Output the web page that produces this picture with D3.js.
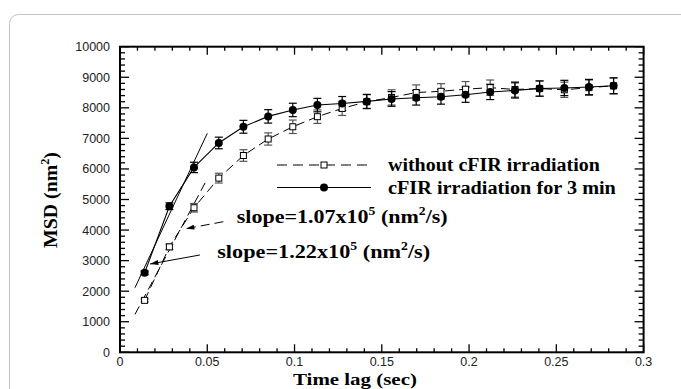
<!DOCTYPE html>
<html><head><meta charset="utf-8">
<script src="https://cdn.jsdelivr.net/npm/d3@7"></script>
<style>
html,body{margin:0;padding:0;background:#fff;}
svg{display:block;}
</style></head>
<body>
<svg id="chart" width="681" height="389"></svg>
<script>
// ---- data ----
const timeLag = [0.0141,0.0283,0.0424,0.0566,0.0707,0.0849,0.0990,0.1131,0.1273,0.1414,0.1556,0.1697,0.1839,0.1980,0.2121,0.2263,0.2404,0.2546,0.2687,0.2828];
const msdWithout = [1700,3450,4730,5700,6440,6980,7380,7710,7980,8200,8340,8500,8540,8610,8660,8600,8630,8590,8660,8720];
const errWithout = [50,90,140,160,190,200,220,220,230,230,250,250,250,250,250,250,250,250,250,260];
const msdCFIR = [2600,4780,6050,6850,7380,7720,7930,8090,8140,8210,8290,8330,8360,8430,8520,8570,8630,8650,8680,8720];
const errCFIR = [60,110,170,190,210,220,220,220,230,230,240,240,240,250,250,250,250,250,250,260];
const seriesNames = ["without cFIR irradiation","cFIR irradiation for 3 min"];
const fitSlopes = [1.07e5, 1.22e5];
const fitIntercepts = [323, 1065];
const fitRange = [0.0086, 0.05];
const slopeLabels = ["1.07", "1.22"];
const xTicks = [0,0.05,0.1,0.15,0.2,0.25,0.3];
const yTicks = [0,1000,2000,3000,4000,5000,6000,7000,8000,9000,10000];

const svg = d3.select("#chart");
const L = 120, R = 643.6, T = 46.7, B = 352.3;
const x = d3.scaleLinear().domain([0,0.3]).range([L,R]);
const y = d3.scaleLinear().domain([0,10000]).range([B,T]);

// outer frame
svg.append("rect").attr("x",9.5).attr("y",14.5).attr("width",700).attr("height",420)
  .attr("rx",9).attr("fill","none").attr("stroke","#c4c4c4").attr("stroke-width",1);

// ticks (inward, all four sides)
const g = svg.append("g");
const xMinor = d3.range(0,0.3001,0.01);
const yMinor = d3.range(0,10001,200);
xMinor.forEach(v=>{
  const major = xTicks.some(t=>Math.abs(t-v)<1e-6);
  const len = major?8:4;
  g.append("line").attr("x1",x(v)).attr("x2",x(v)).attr("y1",B).attr("y2",B-len).attr("stroke","#000").attr("stroke-width",1.3);
  g.append("line").attr("x1",x(v)).attr("x2",x(v)).attr("y1",T).attr("y2",T+len).attr("stroke","#000").attr("stroke-width",1.3);
});
yMinor.forEach(v=>{
  const major = v%1000===0;
  const len = major?9:5;
  g.append("line").attr("y1",y(v)).attr("y2",y(v)).attr("x1",L).attr("x2",L+len).attr("stroke","#000").attr("stroke-width",1.3);
  g.append("line").attr("y1",y(v)).attr("y2",y(v)).attr("x1",R).attr("x2",R-len).attr("stroke","#000").attr("stroke-width",1.3);
});
svg.append("rect").attr("x",L).attr("y",T).attr("width",R-L).attr("height",B-T)
  .attr("fill","none").attr("stroke","#000").attr("stroke-width",2);

// tick labels
const tickFont = "Liberation Sans, Arial, sans-serif";
xTicks.forEach(v=>{
  svg.append("text").attr("x",x(v)).attr("y",B+14).attr("text-anchor","middle")
    .attr("font-family",tickFont).attr("font-size",12.5).attr("fill","#222").text(String(v));
});
yTicks.forEach(v=>{
  svg.append("text").attr("x",L-10).attr("y",y(v)+4.5).attr("text-anchor","end")
    .attr("font-family",tickFont).attr("font-size",12.5).attr("fill","#222").text(String(v));
});

const serif = "Liberation Serif, Times New Roman, serif";
// helper: bold serif text with optional superscripts, stretched to a target width
function stretchText(parent, px, py, parts, size, width, rotate){
  const grp = parent.append("g");
  const t = grp.append("text").attr("font-family",serif).attr("font-weight","bold").attr("font-size",size);
  const rise = size*0.4;
  let pending = 0;
  parts.forEach(p=>{
    const ts = t.append("tspan").text(p.s);
    if(p.sup){ ts.attr("dy",pending - rise).attr("font-size",size*0.62); pending = rise; }
    else { if(pending) ts.attr("dy",pending); pending = 0; }
  });
  const w = t.node().getComputedTextLength();
  const sx = width / w;
  if(rotate){
    grp.attr("transform",`translate(${px},${py}) rotate(-90) scale(${sx},1)`);
    t.attr("x",-w/2);
  } else {
    grp.attr("transform",`translate(${px},${py}) scale(${sx},1)`);
  }
  return grp;
}

// axis titles
stretchText(svg, 293, 385, [{s:"Time lag (sec)"}], 16.5, 124);
stretchText(svg, 57, 200, [{s:"MSD (nm"},{s:"2",sup:true},{s:")"}], 19.5, 96, true);

// fit lines
const plot = svg.append("g");
fitSlopes.forEach((s,i)=>{
  const x0 = fitRange[0], x1 = fitRange[1];
  plot.append("line").attr("x1",x(x0)).attr("y1",y(fitIntercepts[i]+s*x0))
    .attr("x2",x(x1)).attr("y2",y(fitIntercepts[i]+s*x1))
    .attr("stroke","#000").attr("stroke-width",1)
    .attr("stroke-dasharray", i===0?"9,5":null);
});

// series lines
const line = d3.line().x(d=>x(d[0])).y(d=>y(d[1]));
const dWithout = timeLag.map((t,i)=>[t,msdWithout[i],errWithout[i]]);
const dCFIR = timeLag.map((t,i)=>[t,msdCFIR[i],errCFIR[i]]);
plot.append("path").datum(dWithout).attr("d",line).attr("fill","none").attr("stroke","#000")
  .attr("stroke-width",1).attr("stroke-dasharray","9,5");
plot.append("path").datum(dCFIR).attr("d",line).attr("fill","none").attr("stroke","#000").attr("stroke-width",1.1);

// error bars
function errBars(data,color){
  const eg = plot.append("g").attr("stroke",color).attr("stroke-width",1.2);
  data.forEach(d=>{
    eg.append("line").attr("x1",x(d[0])).attr("x2",x(d[0])).attr("y1",y(d[1]-d[2])).attr("y2",y(d[1]+d[2]));
    [d[1]-d[2],d[1]+d[2]].forEach(v=>{
      eg.append("line").attr("x1",x(d[0])-4).attr("x2",x(d[0])+4).attr("y1",y(v)).attr("y2",y(v));
    });
  });
}
errBars(dWithout,"#555");
errBars(dCFIR,"#000");

// markers
plot.selectAll(".sq").data(dWithout).enter().append("rect")
  .attr("x",d=>x(d[0])-3).attr("y",d=>y(d[1])-3).attr("width",6).attr("height",6)
  .attr("fill","#fff").attr("stroke","#000").attr("stroke-width",1);
plot.selectAll(".ci").data(dCFIR).enter().append("circle")
  .attr("cx",d=>x(d[0])).attr("cy",d=>y(d[1])).attr("r",4).attr("fill","#000");

// legend
const lg = svg.append("g");
const legendWidths = [212, 228];
[0,1].forEach(i=>{
  const ly = i===0?165:187.5;
  lg.append("line").attr("x1",277).attr("x2",371).attr("y1",ly).attr("y2",ly)
    .attr("stroke","#000").attr("stroke-width",1).attr("stroke-dasharray",i===0?"10,6":null);
  if(i===0){
    lg.append("rect").attr("x",321).attr("y",ly-3).attr("width",6).attr("height",6).attr("fill","#fff").attr("stroke","#000");
  } else {
    lg.append("circle").attr("cx",324).attr("cy",ly).attr("r",4).attr("fill","#000");
  }
  stretchText(lg, 388, ly+6, [{s:seriesNames[i]}], 19, legendWidths[i]);
});

// annotations
const defs = svg.append("defs");
defs.append("marker").attr("id","ah").attr("viewBox","0 0 10 6").attr("refX",10).attr("refY",3)
  .attr("markerWidth",10).attr("markerHeight",5).attr("markerUnits","userSpaceOnUse").attr("orient","auto")
  .append("path").attr("d","M0,0L10,3L0,6Z").attr("fill","#000");
const arrows = [
  {from:[0.0592,4274], to:[0.0378,4045], dash:"9,5"},
  {from:[0.0458,3184], to:[0.0172,2889], dash:null}
];
arrows.forEach(a=>{
  plot.append("line").attr("x1",x(a.from[0])).attr("y1",y(a.from[1])).attr("x2",x(a.to[0])).attr("y2",y(a.to[1]))
    .attr("stroke","#000").attr("stroke-width",1).attr("stroke-dasharray",a.dash).attr("marker-end","url(#ah)");
});
const labelPos = [[0.0669,4231],[0.0557,3086]];
const labelWidths = [211, 213];
labelPos.forEach((p,i)=>{
  stretchText(svg, x(p[0]), y(p[1]),
    [{s:"slope=" + slopeLabels[i] + "x10"},{s:"5",sup:true},{s:" (nm"},{s:"2",sup:true},{s:"/s)"}],
    19.5, labelWidths[i]);
});
</script>
</body></html>
